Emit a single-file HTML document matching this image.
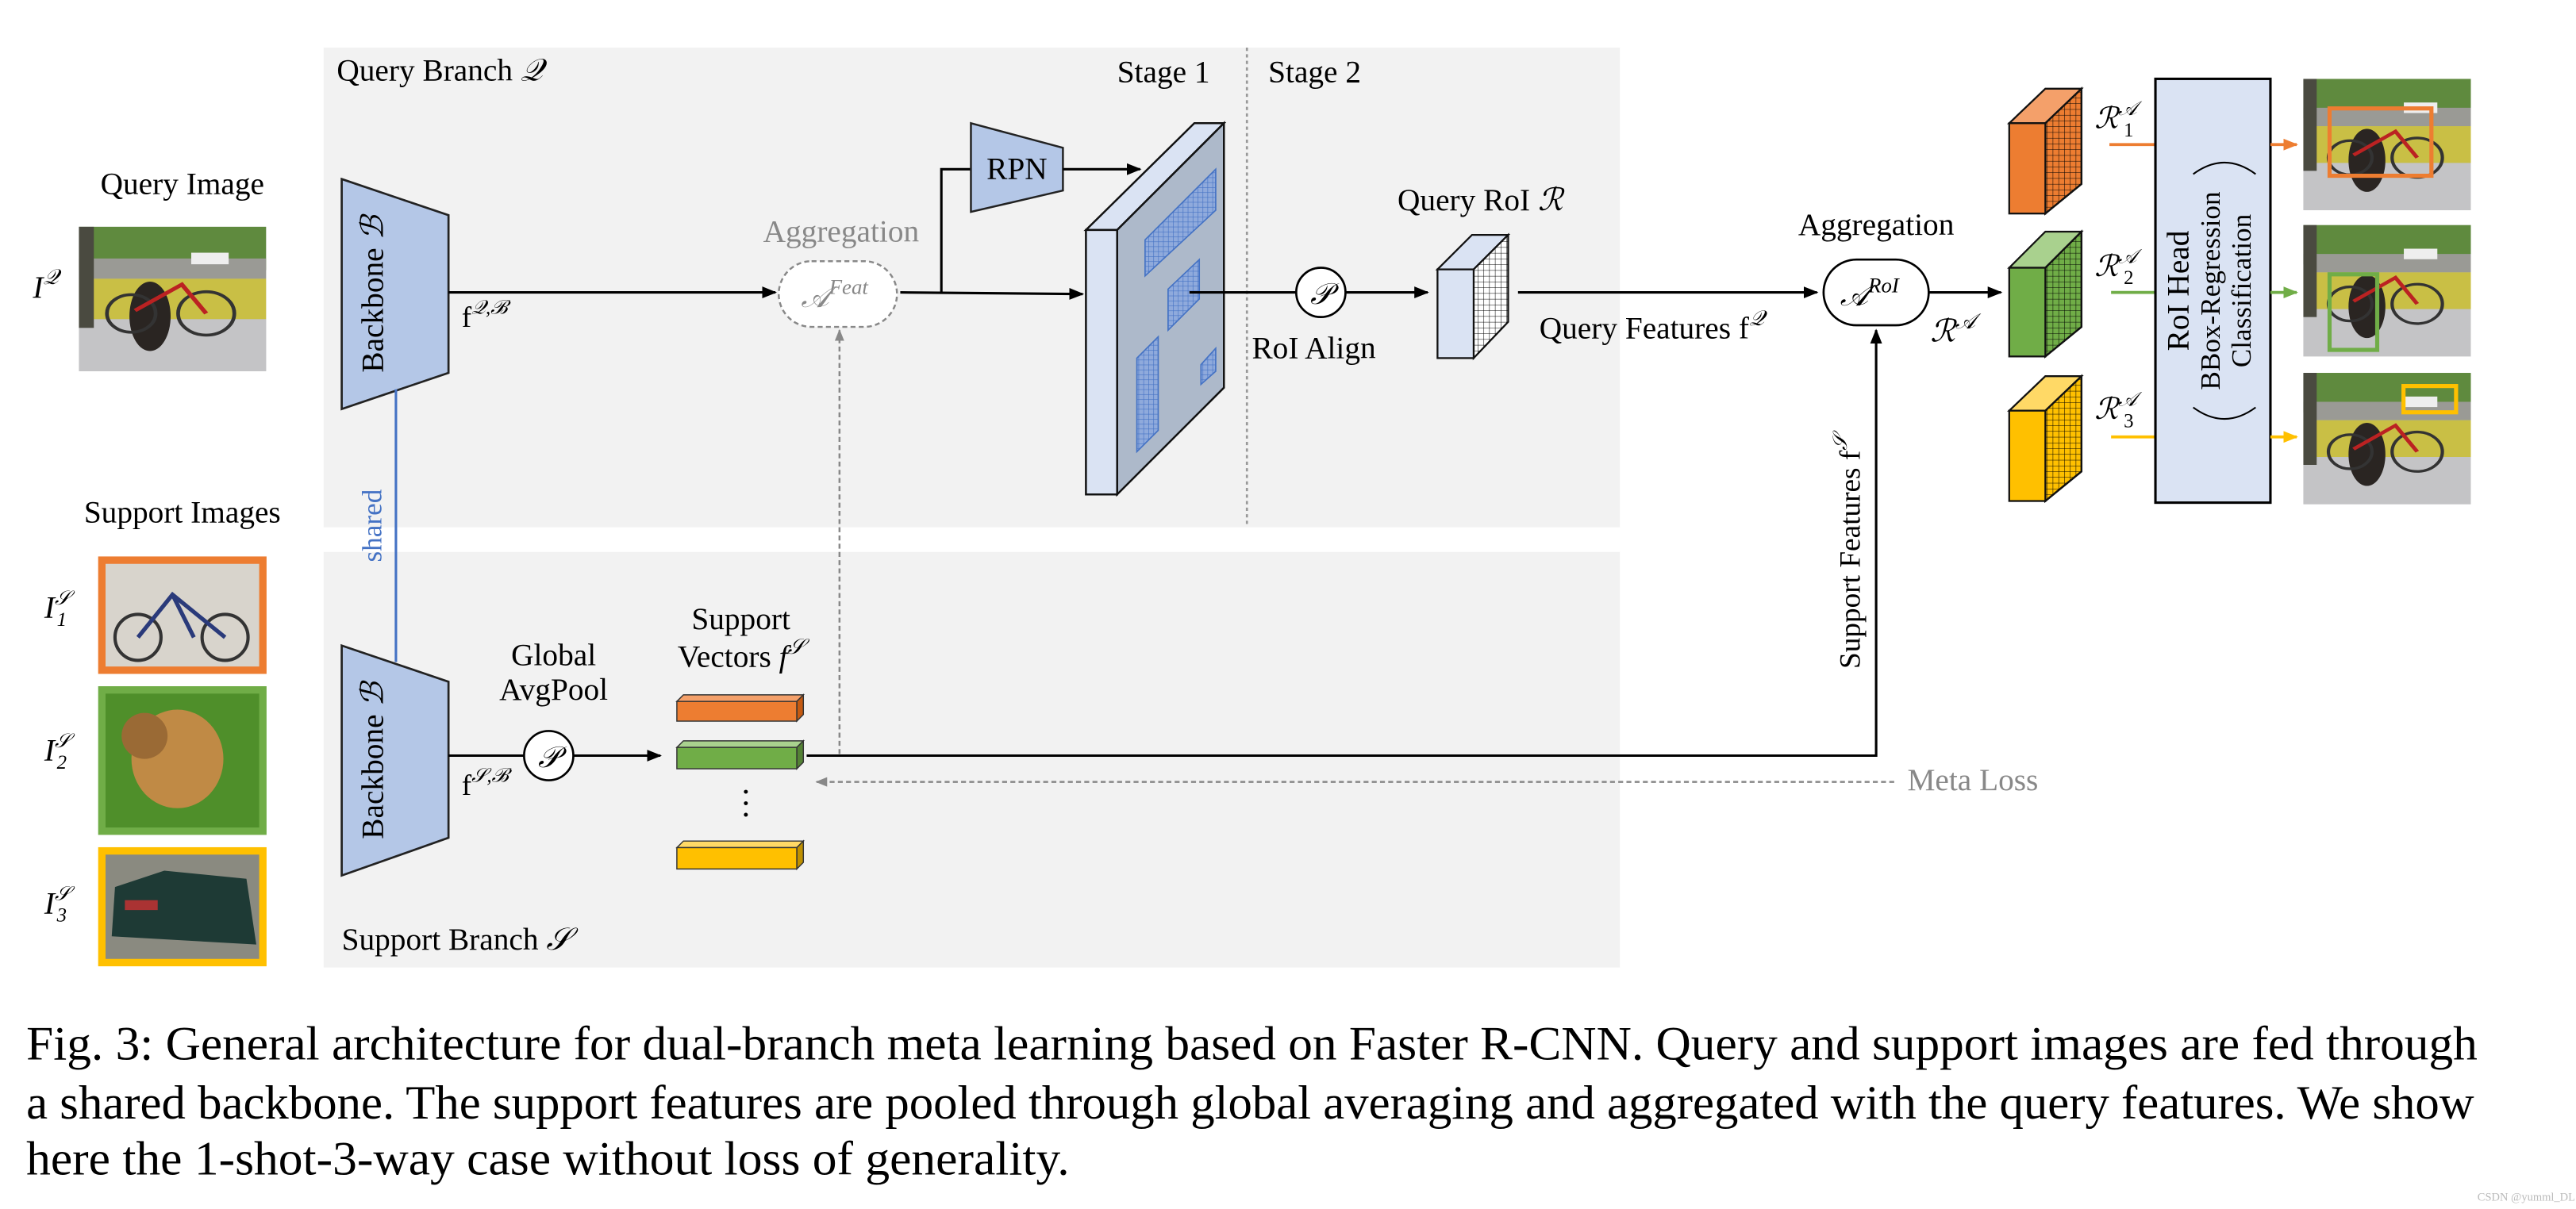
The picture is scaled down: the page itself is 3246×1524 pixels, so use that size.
<!DOCTYPE html>
<html><head><meta charset="utf-8"><style>
html,body{margin:0;padding:0;background:#fff;width:3246px;height:1524px;overflow:hidden}
svg{display:block}
text{font-family:"Liberation Serif",serif}
</style></head><body>
<svg width="3246" height="1524" viewBox="0 0 1568 736" preserveAspectRatio="none" xmlns="http://www.w3.org/2000/svg">
<defs>
<marker id="ab" viewBox="0 0 10 10" refX="9" refY="5" markerWidth="6" markerHeight="6" orient="auto"><path d="M0,1 L10,5 L0,9 z" fill="#000"/></marker>
<marker id="ag" viewBox="0 0 10 10" refX="9" refY="5" markerWidth="6" markerHeight="6" orient="auto"><path d="M0,1 L10,5 L0,9 z" fill="#888"/></marker>
<marker id="ao" viewBox="0 0 10 10" refX="9" refY="5" markerWidth="5" markerHeight="5" orient="auto"><path d="M0,1 L10,5 L0,9 z" fill="#ed7d31"/></marker>
<marker id="agr" viewBox="0 0 10 10" refX="9" refY="5" markerWidth="5" markerHeight="5" orient="auto"><path d="M0,1 L10,5 L0,9 z" fill="#70ad47"/></marker>
<marker id="ay" viewBox="0 0 10 10" refX="9" refY="5" markerWidth="5" markerHeight="5" orient="auto"><path d="M0,1 L10,5 L0,9 z" fill="#ffc000"/></marker>
<pattern id="bg" width="3" height="3" patternUnits="userSpaceOnUse"><rect width="3" height="3" fill="#8faadc"/><path d="M0,0 H3 M0,0 V3" stroke="#4472c4" stroke-width="0.6"/></pattern>
<pattern id="kg" width="3.5" height="3.5" patternUnits="userSpaceOnUse"><path d="M0,0 H3.5 M0,0 V3.5" stroke="#000" stroke-width="0.5"/></pattern>
<symbol id="porch" viewBox="0 0 100 100" preserveAspectRatio="none">
<rect width="100" height="100" fill="#b9b9b9"/>
<rect width="100" height="30" fill="#5f8a3e"/>
<rect y="22" width="100" height="14" fill="#9a9a95"/>
<rect x="60" y="18" width="20" height="8" fill="#eee"/>
<rect y="36" width="100" height="28" fill="#c9bf45"/>
<rect y="64" width="100" height="36" fill="#c4c4c6"/>
<rect x="0" y="0" width="8" height="70" fill="#4a4a40"/>
<ellipse cx="38" cy="62" rx="11" ry="24" fill="#2a2522"/>
<circle cx="68" cy="60" r="15" fill="none" stroke="#333" stroke-width="2"/>
<circle cx="28" cy="60" r="13" fill="none" stroke="#333" stroke-width="2"/>
<path d="M30,58 L55,40 L68,60" stroke="#b22" stroke-width="2.5" fill="none"/>
</symbol>
</defs>

<rect x="197" y="29" width="789" height="292" fill="#f2f2f2"/>
<rect x="197" y="336" width="789" height="253" fill="#f2f2f2"/>
<line x1="759" y1="29" x2="759" y2="321" stroke="#999" stroke-width="1.3" stroke-dasharray="2,2"/>

<text x="205" y="49" font-size="19">Query Branch <tspan font-style="italic">𝒬</tspan></text>
<text x="680" y="50" font-size="19">Stage 1</text>
<text x="772" y="50" font-size="19">Stage 2</text>
<text x="208" y="578" font-size="19">Support Branch <tspan font-style="italic">𝒮</tspan></text>

<text x="111" y="118" font-size="19" text-anchor="middle">Query Image</text>
<text x="20" y="181" font-size="19" font-style="italic">I<tspan font-size="13" dy="-8">𝒬</tspan></text>
<use href="#porch" x="48" y="138" width="114" height="88"/>
<text x="111" y="318" font-size="19" text-anchor="middle">Support Images</text>
<text x="27" y="376" font-size="19" font-style="italic">I<tspan font-size="12" dy="-8">𝒮</tspan><tspan font-size="12" dx="-8" dy="13">1</tspan></text>
<text x="27" y="463" font-size="19" font-style="italic">I<tspan font-size="12" dy="-8">𝒮</tspan><tspan font-size="12" dx="-8" dy="13">2</tspan></text>
<text x="27" y="556" font-size="19" font-style="italic">I<tspan font-size="12" dy="-8">𝒮</tspan><tspan font-size="12" dx="-8" dy="13">3</tspan></text>
<rect x="62" y="341" width="98" height="67" fill="#d8d4cc" stroke="#ed7d31" stroke-width="4.5"/>
<circle cx="84" cy="388" r="14" fill="none" stroke="#333" stroke-width="2"/><circle cx="137" cy="388" r="14" fill="none" stroke="#333" stroke-width="2"/>
<path d="M84,388 L105,362 L137,388 M105,362 L118,388" stroke="#2a3a7a" stroke-width="2.5" fill="none"/>
<rect x="62" y="420" width="98" height="86" fill="#4f8f2a" stroke="#70ad47" stroke-width="4.5"/>
<ellipse cx="108" cy="462" rx="28" ry="30" fill="#c08a45"/><ellipse cx="88" cy="448" rx="14" ry="14" fill="#9a6a35"/>
<rect x="62" y="518" width="98" height="68" fill="#8a8a80" stroke="#ffc000" stroke-width="4.5"/>
<path d="M68,570 L70,540 L100,530 L150,535 L156,575 Z" fill="#1e3a35"/>
<rect x="76" y="548" width="20" height="6" fill="#a33"/>

<polygon points="208,109 273,131 273,227 208,249" fill="#b4c7e7" stroke="#222" stroke-width="1.3"/>
<text transform="translate(233,179) rotate(-90)" font-size="19" text-anchor="middle">Backbone <tspan font-style="italic">ℬ</tspan></text>
<polygon points="208,393 273,415 273,510 208,533" fill="#b4c7e7" stroke="#222" stroke-width="1.3"/>
<text transform="translate(233,463) rotate(-90)" font-size="19" text-anchor="middle">Backbone <tspan font-style="italic">ℬ</tspan></text>
<line x1="241" y1="237" x2="241" y2="403" stroke="#4472c4" stroke-width="1.5"/>
<text transform="translate(232,320) rotate(-90)" font-size="17" fill="#4472c4" text-anchor="middle">shared</text>

<text x="281" y="199" font-size="18">f<tspan font-size="12" dy="-8" font-style="italic">𝒬,ℬ</tspan></text>
<text x="281" y="484" font-size="18">f<tspan font-size="12" dy="-8" font-style="italic">𝒮,ℬ</tspan></text>

<line x1="273" y1="178" x2="472" y2="178" stroke="#000" stroke-width="1.5" marker-end="url(#ab)"/>
<text x="512" y="147" font-size="19" fill="#888" text-anchor="middle">Aggregation</text>
<rect x="474" y="159" width="72" height="40" rx="20" fill="#fff" stroke="#888" stroke-width="1.2" stroke-dasharray="3,2"/>
<text x="508" y="187" font-size="18" fill="#888" text-anchor="middle" font-style="italic">𝒜<tspan font-size="13" dy="-8">Feat</tspan></text>
<line x1="548" y1="178" x2="659" y2="179" stroke="#000" stroke-width="1.5" marker-end="url(#ab)"/>
<polyline points="573,178 573,103 591,103" fill="none" stroke="#000" stroke-width="1.5"/>
<polygon points="591,75 647,90 647,116 591,129" fill="#b4c7e7" stroke="#222" stroke-width="1.2"/>
<text x="619" y="109" font-size="19" text-anchor="middle">RPN</text>
<line x1="647" y1="103" x2="694" y2="103" stroke="#000" stroke-width="1.5" marker-end="url(#ab)"/>

<polygon points="661,140 727,75 745,75 680,140" fill="#dae3f3" stroke="#111" stroke-width="1.2"/>
<polygon points="680,140 745,75 745,236 680,301" fill="#adb9ca" stroke="#111" stroke-width="1.2"/>
<rect x="661" y="140" width="19" height="161" fill="#dae3f3" stroke="#111" stroke-width="1.2"/>
<polygon points="697,146 740,103 740,128 697,168" fill="url(#bg)" stroke="#4472c4" stroke-width="0.8"/>
<polygon points="711,176 730,158 730,182 711,201" fill="url(#bg)" stroke="#4472c4" stroke-width="0.8"/>
<polygon points="692,218 705,205 705,262 692,275" fill="url(#bg)" stroke="#4472c4" stroke-width="0.8"/>
<polygon points="731,222 740,212 740,226 731,234" fill="url(#bg)" stroke="#4472c4" stroke-width="0.8"/>

<line x1="724" y1="178" x2="789" y2="178" stroke="#000" stroke-width="1.5"/>
<circle cx="804" cy="178" r="15" fill="#fff" stroke="#000" stroke-width="1.3"/>
<text x="804" y="185" font-size="18" text-anchor="middle" font-style="italic">𝒫</text>
<text x="762" y="218" font-size="19">RoI Align</text>
<line x1="819" y1="178" x2="869" y2="178" stroke="#000" stroke-width="1.5" marker-end="url(#ab)"/>
<text x="901" y="128" font-size="19" text-anchor="middle">Query RoI <tspan font-style="italic">ℛ</tspan></text>
<polygon points="875,164 896,143 918,143 897,164" fill="#dae3f3" stroke="#111" stroke-width="1.1"/>
<polygon points="897,164 918,143 918,196 897,218" fill="#fff" stroke="#111" stroke-width="1.1"/>
<polygon points="897,164 918,143 918,196 897,218" fill="url(#kg)"/>
<rect x="875" y="164" width="22" height="54" fill="#dae3f3" stroke="#111" stroke-width="1.1"/>
<line x1="924" y1="178" x2="1106" y2="178" stroke="#000" stroke-width="1.5" marker-end="url(#ab)"/>
<text x="937" y="206" font-size="19">Query Features f<tspan font-size="13" dy="-8" font-style="italic">𝒬</tspan></text>
<text x="1142" y="143" font-size="19" text-anchor="middle">Aggregation</text>
<rect x="1110" y="158" width="64" height="40" rx="20" fill="#fff" stroke="#000" stroke-width="1.3"/>
<text x="1138" y="186" font-size="18" text-anchor="middle" font-style="italic">𝒜<tspan font-size="13" dy="-8">RoI</tspan></text>
<line x1="1174" y1="178" x2="1218" y2="178" stroke="#000" stroke-width="1.5" marker-end="url(#ab)"/>
<text x="1175" y="208" font-size="19" font-style="italic">ℛ<tspan font-size="13" dy="-8">𝒜</tspan></text>

<line x1="273" y1="460" x2="319" y2="460" stroke="#000" stroke-width="1.5"/>
<circle cx="334" cy="460" r="15" fill="#fff" stroke="#000" stroke-width="1.3"/>
<text x="334" y="467" font-size="18" text-anchor="middle" font-style="italic">𝒫</text>
<line x1="349" y1="460" x2="402" y2="460" stroke="#000" stroke-width="1.5" marker-end="url(#ab)"/>
<text x="337" y="405" font-size="19" text-anchor="middle">Global</text>
<text x="337" y="426" font-size="19" text-anchor="middle">AvgPool</text>
<text x="451" y="383" font-size="19" text-anchor="middle">Support</text>
<text x="451" y="406" font-size="19" text-anchor="middle">Vectors <tspan font-style="italic">f</tspan><tspan font-size="13" dy="-8" font-style="italic">𝒮</tspan></text>
<g stroke="#333" stroke-width="0.7">
<polygon points="412,427 416,423 489,423 485,427" fill="#f4a06a"/><polygon points="485,427 489,423 489,435 485,439" fill="#c55a11"/><rect x="412" y="427" width="73" height="12" fill="#ed7d31"/>
<polygon points="412,455 416,451 489,451 485,455" fill="#a9d18e"/><polygon points="485,455 489,451 489,464 485,468" fill="#548235"/><rect x="412" y="455" width="73" height="13" fill="#70ad47"/>
<polygon points="412,516 416,512 489,512 485,516" fill="#ffd966"/><polygon points="485,516 489,512 489,525 485,529" fill="#bf9000"/><rect x="412" y="516" width="73" height="13" fill="#ffc000"/>
</g>
<circle cx="454" cy="482" r="1.2"/><circle cx="454" cy="489" r="1.2"/><circle cx="454" cy="496" r="1.2"/>
<polyline points="491,460 1142,460 1142,201" fill="none" stroke="#000" stroke-width="1.5" marker-end="url(#ab)"/>
<line x1="511" y1="459" x2="511" y2="201" stroke="#888" stroke-width="1.2" stroke-dasharray="3,2" marker-end="url(#ag)"/>
<line x1="1153" y1="476" x2="497" y2="476" stroke="#888" stroke-width="1.2" stroke-dasharray="3,2" marker-end="url(#ag)"/>
<text x="1161" y="481" font-size="19" fill="#888">Meta Loss</text>
<text transform="translate(1132,336) rotate(-90)" font-size="18" text-anchor="middle">Support Features f<tspan font-size="12" dy="-8" font-style="italic">𝒮</tspan></text>

<g stroke="#111" stroke-width="1.1">
<polygon points="1223,75 1245,54 1267,54 1245,75" fill="#f4a06a"/><polygon points="1245,75 1267,54 1267,112 1245,130" fill="#ed7d31"/><polygon points="1245,75 1267,54 1267,112 1245,130" fill="url(#kg)"/><rect x="1223" y="75" width="22" height="55" fill="#ed7d31"/>
<polygon points="1223,163 1245,141 1267,141 1245,163" fill="#a9d18e"/><polygon points="1245,163 1267,141 1267,199 1245,217" fill="#70ad47"/><polygon points="1245,163 1267,141 1267,199 1245,217" fill="url(#kg)"/><rect x="1223" y="163" width="22" height="54" fill="#70ad47"/>
<polygon points="1223,250 1245,229 1267,229 1245,250" fill="#ffd966"/><polygon points="1245,250 1267,229 1267,287 1245,305" fill="#ffc000"/><polygon points="1245,250 1267,229 1267,287 1245,305" fill="url(#kg)"/><rect x="1223" y="250" width="22" height="55" fill="#ffc000"/>
</g>
<text x="1275" y="78" font-size="18" font-style="italic">ℛ<tspan font-size="12" dy="-8">𝒜</tspan><tspan font-size="12" dx="-8" dy="13" font-style="normal">1</tspan></text>
<text x="1275" y="168" font-size="18" font-style="italic">ℛ<tspan font-size="12" dy="-8">𝒜</tspan><tspan font-size="12" dx="-8" dy="13" font-style="normal">2</tspan></text>
<text x="1275" y="255" font-size="18" font-style="italic">ℛ<tspan font-size="12" dy="-8">𝒜</tspan><tspan font-size="12" dx="-8" dy="13" font-style="normal">3</tspan></text>
<line x1="1284" y1="88" x2="1312" y2="88" stroke="#ed7d31" stroke-width="1.8"/>
<line x1="1285" y1="178" x2="1312" y2="178" stroke="#70ad47" stroke-width="1.8"/>
<line x1="1285" y1="266" x2="1312" y2="266" stroke="#ffc000" stroke-width="1.8"/>
<rect x="1312" y="48" width="70" height="258" fill="#dae3f3" stroke="#000" stroke-width="1.5"/>
<text transform="translate(1332,177) rotate(-90)" font-size="19" text-anchor="middle">RoI Head</text>
<text transform="translate(1351,177) rotate(-90)" font-size="17" text-anchor="middle">BBox-Regression</text>
<text transform="translate(1370,177) rotate(-90)" font-size="17" text-anchor="middle">Classification</text>
<path d="M1335,106 Q1354,92 1373,106" fill="none" stroke="#000" stroke-width="1"/>
<path d="M1335,248 Q1354,262 1373,248" fill="none" stroke="#000" stroke-width="1"/>
<line x1="1382" y1="88" x2="1398" y2="88" stroke="#ed7d31" stroke-width="1.8" marker-end="url(#ao)"/>
<line x1="1382" y1="178" x2="1398" y2="178" stroke="#70ad47" stroke-width="1.8" marker-end="url(#agr)"/>
<line x1="1382" y1="266" x2="1398" y2="266" stroke="#ffc000" stroke-width="1.8" marker-end="url(#ay)"/>
<use href="#porch" x="1402" y="48" width="102" height="80"/>
<use href="#porch" x="1402" y="137" width="102" height="80"/>
<use href="#porch" x="1402" y="227" width="102" height="80"/>
<rect x="1418" y="66" width="62" height="41" fill="none" stroke="#ed7d31" stroke-width="2.5"/>
<rect x="1418" y="167" width="29" height="46" fill="none" stroke="#70ad47" stroke-width="2.5"/>
<rect x="1463" y="235" width="32" height="16" fill="none" stroke="#ffc000" stroke-width="2.5"/>

<text x="16" y="645" font-size="29" textLength="1492" lengthAdjust="spacingAndGlyphs">Fig. 3: General architecture for dual-branch meta learning based on Faster R-CNN. Query and support images are fed through</text>
<text x="16" y="681" font-size="29" textLength="1490" lengthAdjust="spacingAndGlyphs">a shared backbone. The support features are pooled through global averaging and aggregated with the query features. We show</text>
<text x="16" y="715" font-size="29" textLength="635" lengthAdjust="spacingAndGlyphs">here the 1-shot-3-way case without loss of generality.</text>
<text x="1508" y="731" font-size="7" fill="#bbb" font-family="Liberation Sans, sans-serif">CSDN @yumml_DL</text>
</svg>
</body></html>
